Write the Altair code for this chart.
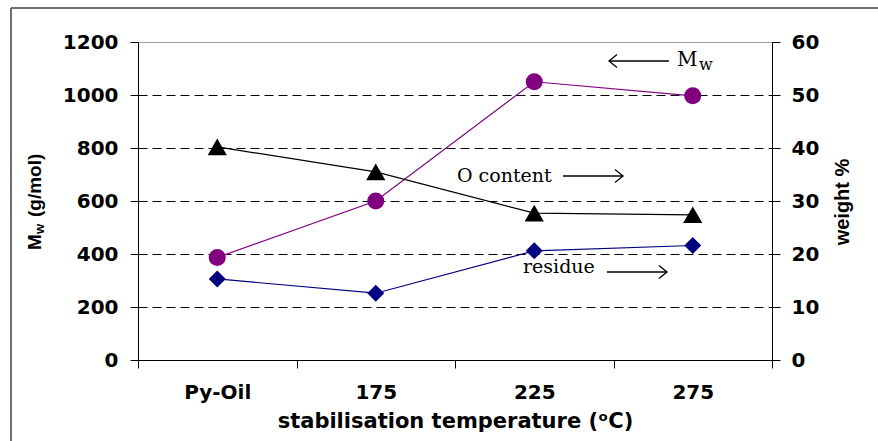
import altair as alt
import pandas as pd

categories = ["Py-Oil", "175", "225", "275"]
mw_values = [387, 600, 1050, 997]
o_content = [40.2, 35.5, 27.7, 27.4]
residue = [15.3, 12.6, 20.6, 21.6]
mw_ticks = [0, 200, 400, 600, 800, 1000, 1200]
wt_ticks = [0, 10, 20, 30, 40, 50, 60]

df = pd.DataFrame({"cat": categories, "mw": mw_values, "o": o_content, "res": residue})
one = pd.DataFrame({"k": [0]})

H_FONT = "DejaVu Sans"
V_FONT = "Liberation Sans"
SERIF = "DejaVu Serif"

x_enc = alt.X(
    "cat:N", sort=categories,
    scale=alt.Scale(type="band", paddingInner=0, paddingOuter=0),
    axis=alt.Axis(
        title="stabilisation temperature (ᵒC)", tickBand="extent", labelAngle=0,
        labelFont=H_FONT, labelFontSize=20, labelFontWeight="bold", labelColor="black",
        labelPadding=14, tickSize=8, tickColor="black", domainColor="black",
        titleFont=H_FONT, titleFontSize=21, titleFontWeight="bold", titleColor="black",
        titlePadding=8, grid=False,
    ),
)

mw_axis = alt.Axis(
    orient="left", values=mw_ticks, title=None, format="d", grid=True, gridColor="black",
    gridDash=[9, 5], gridWidth=1,
    gridOpacity={"condition": {"test": "datum.value == 1200", "value": 0}, "value": 1},
    labelFont=H_FONT, labelFontSize=20, labelFontWeight="bold", labelColor="black",
    tickSize=8, tickColor="black", domainColor="black", labelPadding=12,
)

wt_axis = alt.Axis(
    orient="right", values=wt_ticks, grid=False, title=None, format="d",
    labelFont=H_FONT, labelFontSize=20, labelFontWeight="bold", labelColor="black",
    tickSize=8, tickColor="black", domainColor="black", labelPadding=11,
)

base = alt.Chart(df)
mw_y = alt.Y("mw:Q", scale=alt.Scale(domain=[0, 1200]), axis=mw_axis)
mw_line = base.mark_line(color="#800080", strokeWidth=1.2).encode(x=x_enc, y=mw_y)
mw_pts = base.mark_point(shape="circle", filled=True, color="#800080", size=290, opacity=1).encode(x=x_enc, y=mw_y)
left = alt.layer(mw_line, mw_pts)

wt_scale = alt.Scale(domain=[0, 60])
o_y = alt.Y("o:Q", scale=wt_scale, axis=wt_axis)
r_y = alt.Y("res:Q", scale=wt_scale, axis=wt_axis)
o_line = base.mark_line(color="black", strokeWidth=1.2).encode(x=x_enc, y=o_y)
o_pts = base.mark_point(shape="triangle-up", filled=True, color="black", size=370, opacity=1).encode(x=x_enc, y=o_y)
r_line = base.mark_line(color="#000080", strokeWidth=1.2).encode(x=x_enc, y=r_y)
r_pts = base.mark_point(shape="diamond", filled=True, color="#000080", size=290, opacity=1).encode(x=x_enc, y=r_y)
right = alt.layer(o_line, o_pts, r_line, r_pts)

ann = alt.Chart(one)


def txt(s, x, y, font, size, weight="normal", angle=0, align="left"):
    return ann.mark_text(
        text=s, font=font, fontSize=size, fontWeight=weight, angle=angle,
        align=align, baseline="middle", color="black",
    ).encode(x=alt.value(x), y=alt.value(y))


def shaft(x1, x2, y):
    return ann.mark_rule(color="black", strokeWidth=1.3).encode(
        x=alt.value(x1), x2=alt.value(x2), y=alt.value(y))


def head(x, y, pointing_left):
    path = "M1,-0.8L0,0L1,0.8" if pointing_left else "M-1,-0.8L0,0L-1,0.8"
    return ann.mark_point(shape=path, filled=False, color="black", strokeWidth=1.3,
                          size=256, opacity=1).encode(x=alt.value(x), y=alt.value(y))


annots = [
    # left axis title with subscript
    txt("M", -103, 208, V_FONT, 19, "bold", 270),
    txt("w", -98, 192, V_FONT, 13, "bold", 270),
    txt("(g/mol)", -103, 175, V_FONT, 19, "bold", 270),
    # right axis title
    txt("weight %", 705, 160, V_FONT, 20, "bold", 270, "center"),
    # in-plot labels
    txt("M", 539, 18, SERIF, 20),
    txt("w", 561, 23, SERIF, 16),
    shaft(471, 531, 19), head(471, 19, True),
    txt("O content", 319, 134, SERIF, 19),
    shaft(425, 485, 134), head(485, 134, False),
    txt("residue", 385, 225, SERIF, 19),
    shaft(469, 529, 230), head(529, 230, False),
    # outer frame
    ann.mark_rule(color="#404040", strokeWidth=1.5).encode(
        x=alt.value(-127), y=alt.value(-34), y2=alt.value(399)),
    ann.mark_rule(color="#404040", strokeWidth=1.5).encode(
        x=alt.value(-127), x2=alt.value(740), y=alt.value(-34)),
]

chart = alt.layer(left, right, *annots).resolve_scale(y="independent").properties(
    width=634, height=318,
    autosize=alt.AutoSizeParams(type="none"),
    padding={"left": 138, "top": 42, "right": 106, "bottom": 81},
    background="white",
).configure_view(stroke="#a0a0a0", strokeWidth=1)

chart.save("out.html", embed_options={"renderer": "svg", "actions": False})
